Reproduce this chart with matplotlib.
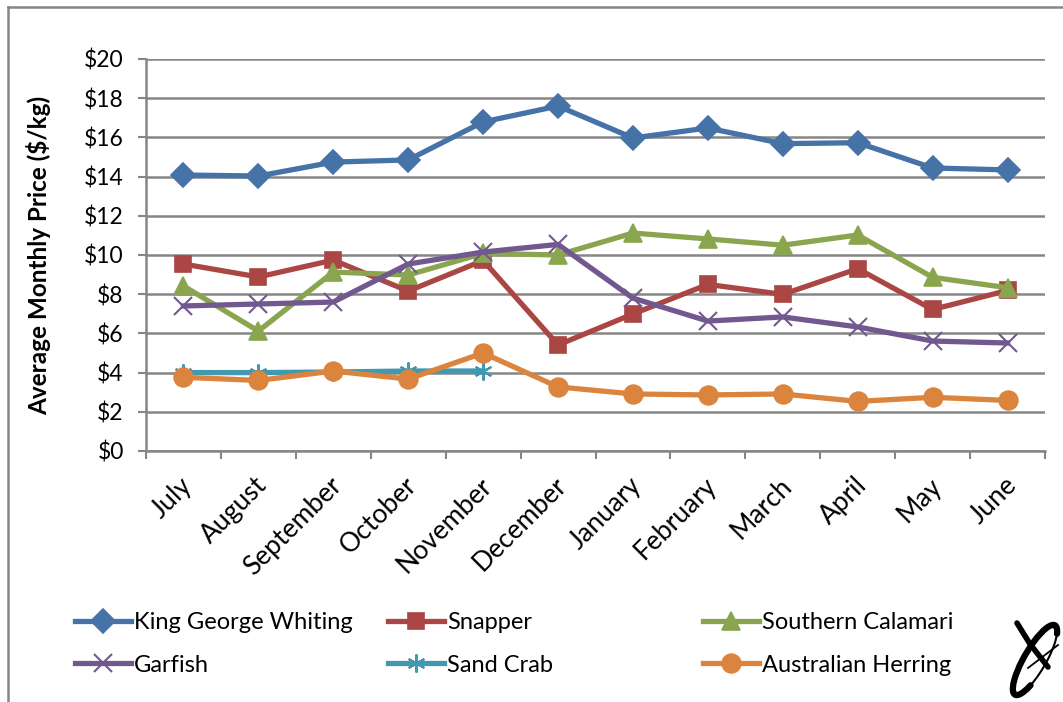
import matplotlib
matplotlib.use("Agg")
import matplotlib.pyplot as plt
import matplotlib.transforms as mtransforms
import numpy as np
from matplotlib.lines import Line2D
from matplotlib.patches import Arc

months = ["July", "August", "September", "October", "November", "December",
          "January", "February", "March", "April", "May", "June"]

king_george_whiting = [14.08, 14.03, 14.74, 14.85, 16.79, 17.6, 15.97, 16.48, 15.68, 15.73, 14.44, 14.34]
snapper = [9.54, 8.88, 9.74, 8.16, 9.72, 5.41, 6.99, 8.5, 7.99, 9.3, 7.22, 8.19]
southern_calamari = [8.42, 6.12, 9.13, 8.98, 10.08, 10.0, 11.12, 10.82, 10.5, 11.02, 8.86, 8.33]
garfish = [7.4, 7.5, 7.6, 9.54, 10.15, 10.54, 7.8, 6.63, 6.84, 6.33, 5.61, 5.51]
sand_crab = [4.0, 4.0, 4.03, 4.08, 4.08]
australian_herring = [3.76, 3.6, 4.08, 3.67, 5.0, 3.27, 2.91, 2.86, 2.91, 2.53, 2.74, 2.58]

y_ticks = [0, 2, 4, 6, 8, 10, 12, 14, 16, 18, 20]
y_label = "Average Monthly Price ($/kg)"

series = [
    ("King George Whiting", king_george_whiting, "#4572A7", "D", 12.5),
    ("Snapper", snapper, "#AA4643", "s", 11.5),
    ("Southern Calamari", southern_calamari, "#89A54E", "^", 13.5),
    ("Garfish", garfish, "#71588F", "x", 13),
    ("Sand Crab", sand_crab, "#4198AF", (6, 2, 0), 13),
    ("Australian Herring", australian_herring, "#DB843D", "o", 13.5),
]

plt.rcParams["font.family"] = ["Lato", "DejaVu Sans"]

fig = plt.figure(figsize=(10.63, 7.02), dpi=100)
ax = fig.add_axes([146 / 1063, 1 - 451 / 702, (1045 - 146) / 1063, (451 - 59) / 702])

x = np.arange(len(months))
handles = []
for name, vals, color, marker, ms in series:
    xs = x[:len(vals)]
    filled = marker != "x" and not isinstance(marker, tuple)
    line, = ax.plot(xs, vals, color=color, lw=3.8, marker=marker, markersize=ms,
                    markeredgewidth=1.2 if filled else 1.5,
                    markerfacecolor=color, markeredgecolor=color,
                    solid_joinstyle="round", zorder=3)
    handles.append(line)

ax.set_xlim(-0.5, len(months) - 0.5)
ax.set_ylim(0, 20)
ax.set_yticks(y_ticks)
ax.set_yticklabels([f"${v}" for v in y_ticks])
ax.set_xticks(x)
ax.set_xticklabels(months, rotation=45, ha="right", va="center", rotation_mode="anchor")
ax.set_xticks(np.arange(-0.5, len(months), 1.0), minor=True)
ax.tick_params(axis="x", which="major", length=0, pad=22, labelsize=19)
ax.tick_params(axis="x", which="minor", length=6, width=1.5, color="#868686")
ax.tick_params(axis="y", length=6, width=1.5, color="#868686", pad=10, labelsize=16.5)

# nudge the slanted month names slightly to the right
shift = mtransforms.ScaledTranslation(5 / 100, 0, fig.dpi_scale_trans)
for lbl in ax.get_xticklabels():
    lbl.set_transform(lbl.get_transform() + shift)

ax.grid(axis="y", color="#868686", lw=1.8, zorder=0)
for side in ("top", "right"):
    ax.spines[side].set_visible(False)
for side in ("left", "bottom"):
    ax.spines[side].set_color("#868686")
    ax.spines[side].set_linewidth(1.8)

ax.set_ylabel(y_label, fontsize=17.5, fontweight="bold")
ax.yaxis.set_label_coords(-0.105, 0.5)

# Legend: three columns, two rows each
col_x = [66 / 1063, 379 / 1063, 694 / 1063]
for i, cx in enumerate(col_x):
    pair = [handles[i], handles[i + 3]]
    fig.legend(pair, [series[i][0], series[i + 3][0]],
               loc="upper left", bbox_to_anchor=(cx, 1 - 603 / 702),
               frameon=False, fontsize=17, handlelength=2.35,
               handletextpad=0.13, labelspacing=0.9, borderaxespad=0)

# Outer frame of the chart area
fig.add_artist(Line2D([8 / 1063, 8 / 1063], [0, 1 - 7 / 702], color="#868686", lw=1.8,
                      transform=fig.transFigure))
fig.add_artist(Line2D([8 / 1063, 1], [1 - 7 / 702, 1 - 7 / 702], color="#868686", lw=1.8,
                      transform=fig.transFigure))

# Corner emblem
lax = fig.add_axes([1000 / 1063, 0, 63 / 1063, 100 / 702])
lax.set_xlim(0, 63)
lax.set_ylim(0, 100)
lax.axis("off")
lax.add_patch(Arc((35, 42), 22, 80, angle=-30, theta1=80, theta2=290, lw=4.5,
                  color="black", capstyle="round"))
lax.add_patch(Arc((35, 42), 22, 80, angle=-30, theta1=-70, theta2=80, lw=1.5,
                  color="black"))
lax.plot([17, 30, 48], [79, 58, 35], color="black", lw=4, solid_capstyle="round")
lax.plot([28, 58], [34, 57], color="black", lw=1.3)

fig.savefig("out.png", dpi=100)
